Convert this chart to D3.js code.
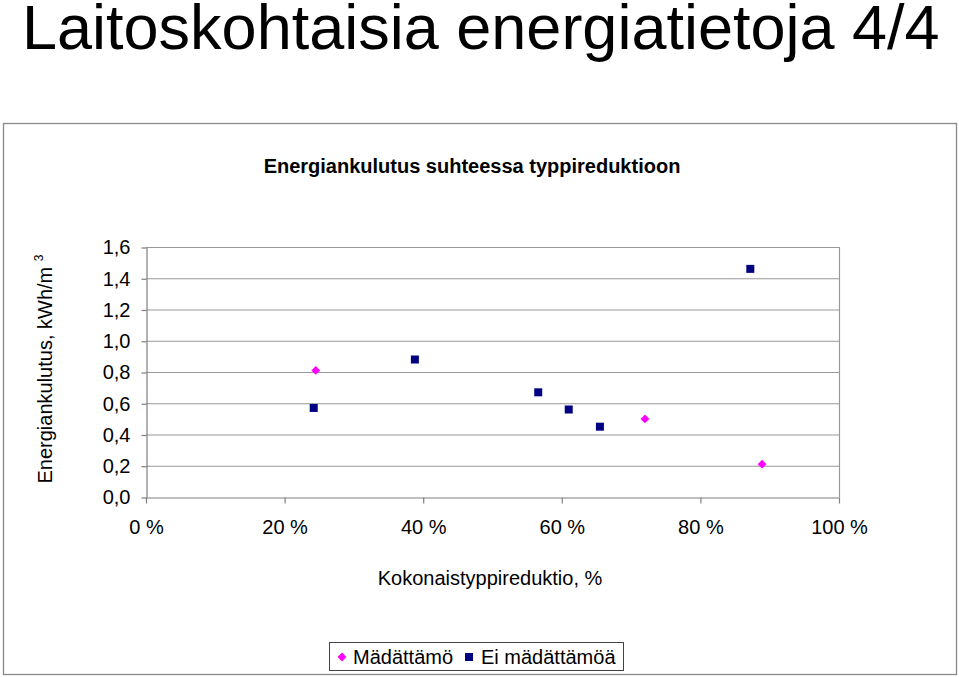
<!DOCTYPE html>
<html>
<head>
<meta charset="utf-8">
<script src="https://cdn.jsdelivr.net/npm/d3@7"></script>
<style>
body { margin: 0; background: #fff; }
text { font-family: "Liberation Sans", Arial, sans-serif; }
</style>
</head>
<body>
<div id="chart"></div>
<script>
// data: x = nitrogen reduction (%), y = energy kWh/m3
var madXs = [24.5, 72.0, 88.9];
var madYs = [0.81, 0.50, 0.21];
var eiXs = [24.2, 38.8, 56.6, 61.0, 65.5, 87.2];
var eiYs = [0.57, 0.88, 0.67, 0.56, 0.45, 1.46];
var xTicks = [0, 20, 40, 60, 80, 100];
var yTicks = [0, 0.2, 0.4, 0.6, 0.8, 1.0, 1.2, 1.4, 1.6];
var legendNames = ["Mädättämö", "Ei mädättämöä"];

var width = 959, height = 677;

var svg = d3.select("#chart").append("svg")
    .attr("width", width)
    .attr("height", height);

// big slide title
svg.append("text")
    .attr("x", 22)
    .attr("y", 49)
    .attr("font-size", 63)
    .text("Laitoskohtaisia energiatietoja 4/4");

// chart frame
svg.append("rect")
    .attr("x", 3.5).attr("y", 123.5)
    .attr("width", 953).attr("height", 551)
    .attr("fill", "none")
    .attr("stroke", "#888")
    .attr("stroke-width", 1.3);

svg.append("text")
    .attr("x", 472).attr("y", 173)
    .attr("text-anchor", "middle")
    .attr("font-size", 20)
    .attr("font-weight", "bold")
    .text("Energiankulutus suhteessa typpireduktioon");

var x = d3.scaleLinear().domain([0, 100]).range([146, 839]);
var y = d3.scaleLinear().domain([0, 1.6]).range([497, 247]);

// grid
svg.append("g").selectAll("line")
    .data(yTicks.slice(1))
    .enter().append("line")
    .attr("x1", x(0)).attr("x2", x(100))
    .attr("y1", function (d) { return y(d) + 0.5; })
    .attr("y2", function (d) { return y(d) + 0.5; })
    .attr("stroke", "#999")
    .attr("stroke-width", 1.2);

svg.append("line")
    .attr("x1", x(100) + 0.5).attr("x2", x(100) + 0.5)
    .attr("y1", y(1.6)).attr("y2", y(0))
    .attr("stroke", "#999")
    .attr("stroke-width", 1.2);

var yAxis = svg.append("g")
    .attr("transform", "translate(" + (x(0) + 0.5) + ",0.5)")
    .call(d3.axisLeft(y).tickValues(yTicks).tickSize(5).tickSizeOuter(0)
        .tickFormat(function (d) { return d3.format(".1f")(d).replace(".", ","); }));

var xAxis = svg.append("g")
    .attr("transform", "translate(0," + (y(0) + 0.5) + ")")
    .call(d3.axisBottom(x).tickValues(xTicks).tickSize(6).tickSizeOuter(0)
        .tickFormat(function (d) { return d + " %"; }));

[yAxis, xAxis].forEach(function (a) {
    a.attr("font-size", 20).attr("font-family", "Liberation Sans, Arial, sans-serif");
    a.selectAll("path, line").attr("stroke", "#808080").attr("stroke-width", 1.2);
    a.selectAll("text").attr("fill", "#000");
});
yAxis.selectAll("text").attr("x", -16);
xAxis.selectAll("text").attr("y", 22);

// axis titles
var yl = svg.append("text")
    .attr("transform", "translate(52,369) rotate(-90)")
    .attr("text-anchor", "middle")
    .attr("font-size", 20);
yl.append("tspan").text("Energiankulutus, kWh/m ");
yl.append("tspan").attr("font-size", 12).attr("dy", -9).text("3");

svg.append("text")
    .attr("x", 490).attr("y", 585)
    .attr("text-anchor", "middle")
    .attr("font-size", 20)
    .text("Kokonaistyppireduktio, %");

// points
var diamond = d3.symbol().type(d3.symbolDiamond2).size(50);

svg.append("g").selectAll("path")
    .data(madXs)
    .enter().append("path")
    .attr("d", diamond)
    .attr("transform", function (d, i) {
        return "translate(" + x(d) + "," + y(madYs[i]) + ")";
    })
    .attr("fill", "#ff00ff");

svg.append("g").selectAll("rect")
    .data(eiXs)
    .enter().append("rect")
    .attr("x", function (d) { return x(d) - 4; })
    .attr("y", function (d, i) { return y(eiYs[i]) - 4; })
    .attr("width", 8).attr("height", 8)
    .attr("fill", "#000080");

// legend
var lg = svg.append("g");
lg.append("rect")
    .attr("x", 329.5).attr("y", 642.5)
    .attr("width", 294).attr("height", 28)
    .attr("fill", "#fff")
    .attr("stroke", "#444");
lg.append("path")
    .attr("d", diamond)
    .attr("transform", "translate(342,657)")
    .attr("fill", "#ff00ff");
lg.append("text").attr("x", 353).attr("y", 664).attr("font-size", 20).text(legendNames[0]);
lg.append("rect")
    .attr("x", 465).attr("y", 653).attr("width", 8).attr("height", 8)
    .attr("fill", "#000080");
lg.append("text").attr("x", 481).attr("y", 664).attr("font-size", 20).text(legendNames[1]);
</script>
</body>
</html>
